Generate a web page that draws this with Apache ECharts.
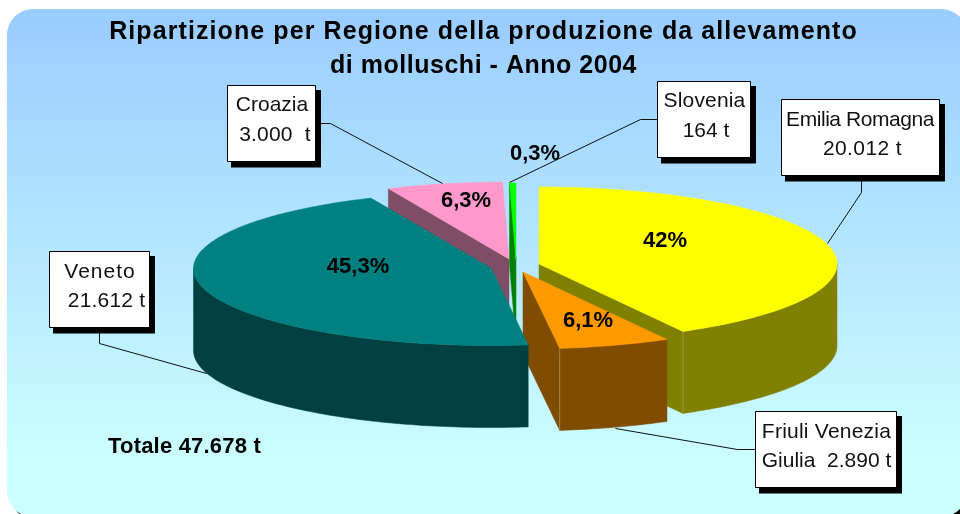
<!DOCTYPE html>
<html>
<head>
<meta charset="utf-8">
<style>html,body{margin:0;padding:0;background:#fff}#c{width:960px;height:514px}</style>
<script src="https://cdn.jsdelivr.net/npm/echarts@6/dist/echarts.min.js"></script>
</head>
<body>
<div id="c"></div>
<script>
// ---- data ----
const regions = ['Emilia Romagna', 'Friuli Venezia Giulia', 'Veneto', 'Croazia', 'Slovenia'];
const tonnes = [20012, 2890, 21612, 3000, 164];
const percentLabels = ['42%', '6,1%', '45,3%', '6,3%', '0,3%'];
const boxLines = [
  ['Emilia Romagna', '20.012 t'],
  ['Friuli Venezia', 'Giulia  2.890 t'],
  ['Veneto', '21.612 t'],
  ['Croazia', '3.000  t'],
  ['Slovenia', '164 t']
];
const titleLines = ['Ripartizione per Regione della produzione da allevamento', 'di molluschi - Anno 2004'];
const totalText = 'Totale 47.678 t';

// ---- layout / style ----
const RX = 298, RY = 77, DEPTH = 82;
const topColors = ['#FFFF00', '#FF9900', '#008080', '#FF99CC', '#00FF00'];
const sideColors = ['#808000', '#804D00', '#004040', '#804D66', '#008000'];
const paintOrder = [2, 3, 4, 0, 1]; // back to front: Croazia, Slovenia, Emilia, Friuli, Veneto
const apex = [[539, 264], [523, 272], [491.5, 268.5], [509, 259], [516, 260]];
const pctPos = [[665, 241], [588, 321], [358, 267], [466, 201], [535, 154]];
const boxes = [
  { r: [781, 99, 158, 76], t: [[860, 120], [862.5, 149]], line: [[861, 175], [861, 192], [827, 243]] },
  { r: [755, 411, 141, 76], t: [[826.5, 432], [826.5, 461]], line: [[755, 449], [737, 449], [615, 428]] },
  { r: [49, 251, 100, 76], t: [[100, 272], [106.5, 301]], line: [[99, 327], [99, 343], [206, 373]] },
  { r: [227, 85, 88, 76], t: [[272, 105], [275, 135]], line: [[315, 123], [330, 123], [442, 183]] },
  { r: [657, 81, 93, 76], t: [[704.5, 101], [706, 131]], line: [[657, 119], [640, 119], [509, 182]] }
];
const FONT = '"Liberation Sans", Arial, sans-serif';

// Per-string tracking, to match the reference's wider / tighter text runs.
const tracking = {
  'Ripartizione per Regione della produzione da allevamento': 1.09,
  'di molluschi - Anno 2004': 0.52,
  'Totale 47.678 t': 0.2,
  'Emilia Romagna': -0.45,
  '20.012 t': 0.4,
  'Friuli Venezia': 0.23,
  'Veneto': 1,
  '21.612 t': 0.2,
  'Slovenia': 0.15,
  '3.000  t': 0.2
};
const nativeFillText = CanvasRenderingContext2D.prototype.fillText;
CanvasRenderingContext2D.prototype.fillText = function (txt, x, y) {
  const s = tracking[txt];
  if (s === undefined) return nativeFillText.call(this, txt, x, y);
  this.save();
  this.letterSpacing = s + 'px';
  nativeFillText.call(this, txt, x, y);
  this.restore();
};

const total = tonnes.reduce((a, b) => a + b, 0);
const cumul = tonnes.reduce((acc, v) => { acc.push(acc[acc.length - 1] + v); return acc; }, [0]);
const angleOf = v => echarts.number.linearMap(v, [0, total], [0, Math.PI * 2]);

function pt(i, a, dz) {
  return [apex[i][0] + RX * Math.sin(a), apex[i][1] - RY * Math.cos(a) + (dz || 0)];
}
function arc(i, a0, a1, dz) {
  const n = Math.max(2, Math.ceil(Math.abs(a1 - a0) / 0.02));
  const out = [];
  for (let k = 0; k <= n; k++) out.push(pt(i, a0 + (a1 - a0) * k / n, dz));
  return out;
}

function sliceChildren(i) {
  const a0 = angleOf(cumul[i]), a1 = angleOf(cumul[i + 1]);
  const c = apex[i], kids = [];
  const side = sideColors[i], top = topColors[i];
  const poly = (points, fill) => ({
    type: 'polygon', shape: { points },
    style: { fill, stroke: fill, lineWidth: 0.5 }
  });
  const down = p => [p[0], p[1] + DEPTH];
  const s = pt(i, a0), e = pt(i, a1);
  // radial walls that face the viewer
  if (a0 > Math.PI) kids.push(poly([s, c, down(c), down(s)], side));
  if (a1 > Math.PI * 0.5 && a1 <= Math.PI) kids.push(poly([c, e, down(e), down(c)], side));
  // outer rim: the visible, front half only
  const r0 = Math.max(a0, Math.PI / 2), r1 = Math.min(a1, Math.PI * 1.5);
  if (r1 > r0) kids.push(poly(arc(i, r0, r1).concat(arc(i, r1, r0, DEPTH)), side));
  // lighter seam at the rim's corner
  if (a1 > Math.PI * 0.5 && a1 <= Math.PI) {
    kids.push({ type: 'line', shape: { x1: e[0], y1: e[1], x2: e[0], y2: e[1] + DEPTH },
      style: { stroke: '#A8A060', lineWidth: 1, opacity: 0.7 } });
  }
  // top face
  kids.push(poly([c].concat(arc(i, a0, a1)), top));
  kids.forEach((k, idx) => { k.z2 = paintOrder[i] * 10 + idx; });
  return kids;
}

const chart = echarts.init(document.getElementById('c'), null, { renderer: 'canvas' });

const overlay = [];
boxes.forEach((b, i) => {
  overlay.push({ type: 'polyline', z: 20, shape: { points: b.line.map(p => [p[0] + 0.5, p[1] + 0.5]) }, style: { fill: null, stroke: '#111', lineWidth: 1 } });
  overlay.push({ type: 'rect', z: 21, shape: { x: b.r[0] + 4, y: b.r[1] + 5, width: b.r[2] + 2, height: b.r[3] + 1.5 }, style: { fill: '#000' } });
  overlay.push({ type: 'rect', z: 22, shape: { x: b.r[0] + 0.5, y: b.r[1] + 0.5, width: b.r[2], height: b.r[3] }, style: { fill: '#fff', stroke: '#000', lineWidth: 1 } });
  boxLines[i].forEach((txt, k) => {
    overlay.push({ type: 'text', z: 23, x: b.t[k][0], y: b.t[k][1],
      style: { text: txt, font: '21px ' + FONT, fill: '#111', align: 'center', verticalAlign: 'middle' } });
  });
});
percentLabels.forEach((txt, i) => {
  overlay.push({ type: 'text', z: 19, x: pctPos[i][0], y: pctPos[i][1],
    style: { text: txt, font: 'bold 22px ' + FONT, fill: '#000', align: 'center', verticalAlign: 'middle' } });
});

chart.setOption({
  animation: false,
  backgroundColor: '#fff',
  title: {
    text: titleLines.join('\n'), left: 483.5, top: 15, padding: 0, textAlign: 'center',
    textStyle: { fontFamily: FONT, fontWeight: 'bold', fontSize: 25, lineHeight: 34, color: '#000' }
  },
  graphic: [
    { type: 'rect', z: -12, silent: true, shape: { x: 10, y: 12, width: 960, height: 508, r: 26 }, style: { fill: '#000' } },
    { type: 'rect', z: -11, silent: true, shape: { x: 7, y: 9, width: 960, height: 508, r: 26 },
      style: { fill: new echarts.graphic.LinearGradient(0, 0, 0, 1, [
        { offset: 0, color: '#99CCFF' }, { offset: 0.9, color: '#CCFFFF' }, { offset: 1, color: '#CCFFFF' }]) } },
    { type: 'text', z: 30, x: 108, y: 447,
      style: { text: totalText, font: 'bold 22px ' + FONT, fill: '#000', align: 'left', verticalAlign: 'middle' } }
  ].concat(overlay),
  series: [{
    type: 'custom',
    coordinateSystem: 'none',
    z: 5,
    data: regions.map((name, i) => ({ name, value: tonnes[i] })),
    renderItem: (params) => ({ type: 'group', children: sliceChildren(params.dataIndex) })
  }]
});
</script>
</body>
</html>
